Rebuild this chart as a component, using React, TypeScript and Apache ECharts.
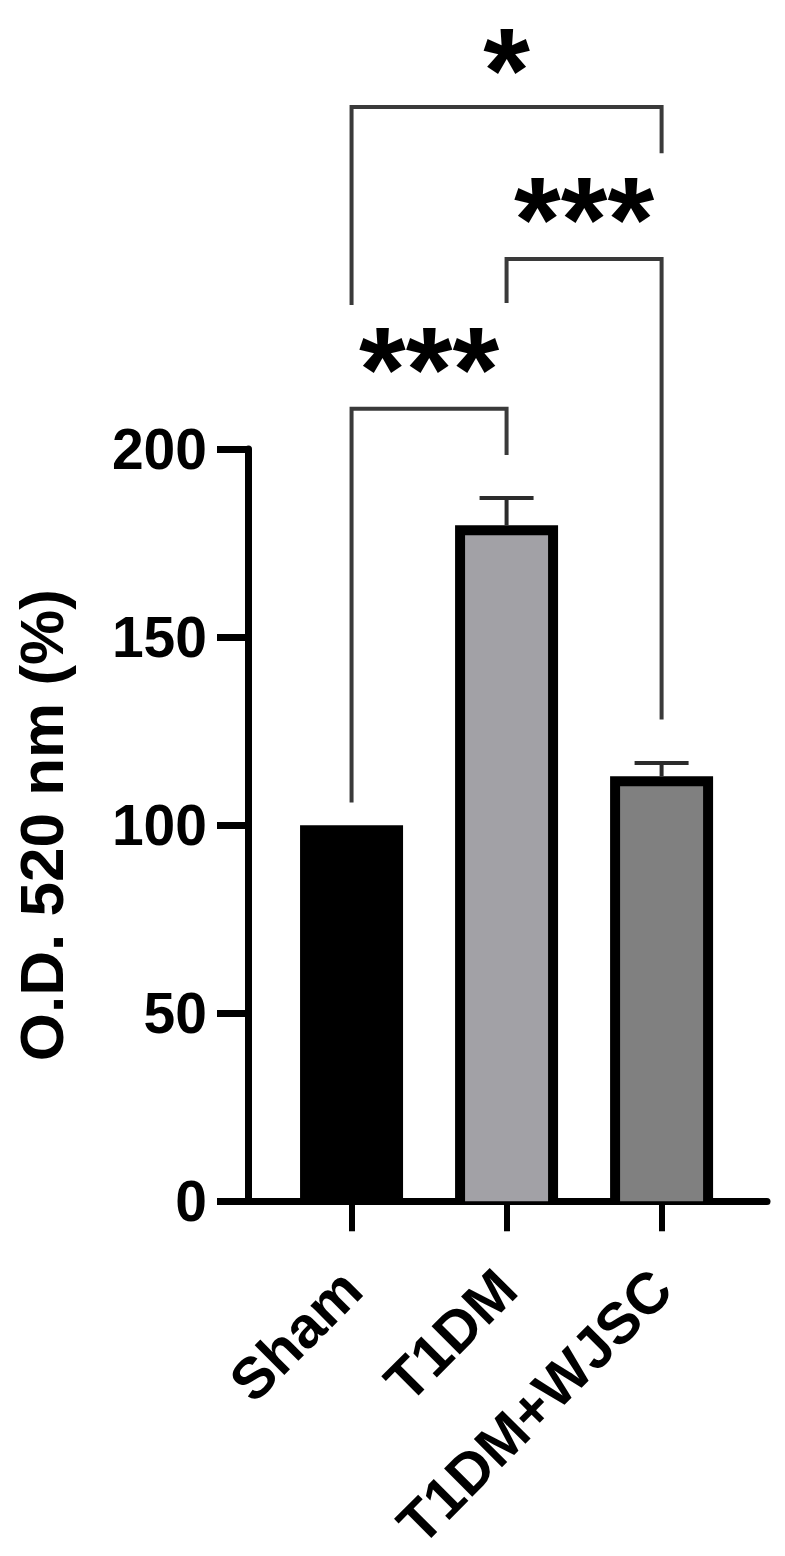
import React, { useEffect, useRef } from 'react';
import * as echarts from 'echarts';

// ---- data ----
const categories = ['Sham', 'T1DM', 'T1DM+WJSC'];
const categoryPositions = [1, 2, 3];
const means = [100, 179.7, 113];
const sem = [0, 7.3, 3.5];
const barFills = ['#000000', '#a2a1a6', '#808080'];
const yTickValues = [0, 50, 100, 150, 200];

// significance comparisons (bracket levels in axis units)
const cmpFrom = [0, 1, 0];
const cmpTo = [1, 2, 2];
const cmpLabels = ['***', '***', '*'];
const cmpLevel = [210.7, 250.5, 290.9];
const cmpLeftEnd = [106, 238.8, 238.3];
const cmpRightEnd = [198.4, 128.1, 278.6];

const FONT = '"Liberation Sans", Arial, Helvetica, sans-serif';
const STAR_SIZE = 120;

export default function App() {
  const ref = useRef<HTMLDivElement>(null);

  useEffect(() => {
    const chart = echarts.init(ref.current as HTMLDivElement, null, { renderer: 'svg' });

    const barData = categories.map((_, i) => [categoryPositions[i], means[i], i]);
    const errData = categories.map((_, i) => [categoryPositions[i], means[i], means[i] + sem[i], i]);
    const cmpData = cmpLabels.map((_, i) => [
      (categoryPositions[cmpFrom[i]] + categoryPositions[cmpTo[i]]) / 2,
      cmpLevel[i],
      categoryPositions[cmpFrom[i]],
      categoryPositions[cmpTo[i]],
      cmpLeftEnd[i],
      cmpRightEnd[i],
      i,
    ]);

    const option: any = {
      animation: false,
      grid: { left: 248, right: 18, top: 449, bottom: 339, containLabel: false },
      xAxis: {
        type: 'value',
        min: 0.332,
        max: 3.68,
        axisLine: { show: true, onZero: false, lineStyle: { color: '#000', width: 7 } },
        axisTick: {
          show: true,
          customValues: categoryPositions,
          length: 30,
          lineStyle: { color: '#000', width: 6 },
        },
        axisLabel: {
          customValues: categoryPositions,
          rotate: 45,
          margin: 78,
          formatter: (v: number) => categories[Math.round(v) - 1] ?? '',
          fontSize: 58,
          fontWeight: 'bold',
          color: '#000',
          fontFamily: FONT,
        },
        splitLine: { show: false },
      },
      yAxis: {
        type: 'value',
        min: yTickValues[0],
        max: yTickValues[yTickValues.length - 1],
        interval: 50,
        axisLine: { show: true, lineStyle: { color: '#000', width: 7 } },
        axisTick: { show: true, length: 31, lineStyle: { color: '#000', width: 7 } },
        axisLabel: {
          margin: 41,
          fontSize: 57,
          fontWeight: 'bold',
          color: '#000',
          fontFamily: FONT,
        },
        splitLine: { show: false },
        name: 'O.D. 520 nm (%)',
        nameLocation: 'middle',
        nameRotate: 90,
        nameGap: 176,
        nameTextStyle: { fontSize: 62, fontWeight: 'bold', color: '#000', fontFamily: FONT },
      },
      series: [
        {
          type: 'custom',
          name: 'bars',
          clip: false,
          data: barData,
          encode: { x: 0, y: 1 },
          renderItem: (params: any, api: any) => {
            const x = api.value(0);
            const v = api.value(1);
            const idx = api.value(2);
            const top = api.coord([x, v]);
            const base = api.coord([x, 0]);
            const w = 103;
            const b = 10;
            const left = top[0] - w / 2;
            const h = base[1] - top[1];
            return {
              type: 'group',
              children: [
                { type: 'rect', shape: { x: left, y: top[1], width: w, height: h }, style: { fill: '#000' } },
                {
                  type: 'rect',
                  shape: { x: left + b, y: top[1] + b, width: w - 2 * b, height: h - b },
                  style: { fill: barFills[idx] },
                },
              ],
            };
          },
        },
        {
          type: 'custom',
          name: 'error',
          clip: false,
          data: errData,
          encode: { x: 0, y: [1, 2] },
          renderItem: (params: any, api: any) => {
            const x = api.value(0);
            const lo = api.coord([x, api.value(1)]);
            const hi = api.coord([x, api.value(2)]);
            if (Math.abs(lo[1] - hi[1]) < 1) return { type: 'group', children: [] };
            const half = 27;
            const st = { stroke: '#2b2b2b', lineWidth: 4 };
            return {
              type: 'group',
              children: [
                { type: 'line', shape: { x1: lo[0], y1: lo[1], x2: hi[0], y2: hi[1] }, style: st },
                { type: 'line', shape: { x1: hi[0] - half, y1: hi[1], x2: hi[0] + half, y2: hi[1] }, style: st },
              ],
            };
          },
        },
        {
          type: 'custom',
          name: 'significance',
          clip: false,
          data: cmpData,
          encode: { x: [0, 2, 3], y: [1, 4, 5] },
          renderItem: (params: any, api: any) => {
            const mid = api.value(0);
            const level = api.value(1);
            const x1 = api.value(2);
            const x2 = api.value(3);
            const le = api.value(4);
            const re = api.value(5);
            const idx = api.value(6);
            const pL = api.coord([x1, level]);
            const pR = api.coord([x2, level]);
            const pLe = api.coord([x1, le]);
            const pRe = api.coord([x2, re]);
            const pM = api.coord([mid, level]);
            const st = { stroke: '#3a3a3a', lineWidth: 4, fill: 'none' };
            // keep the label's text box inside the canvas
            const ty = Math.max(pM[1] - 40, STAR_SIZE * 0.58);
            return {
              type: 'group',
              children: [
                {
                  type: 'polyline',
                  shape: { points: [[pLe[0], pLe[1]], [pL[0], pL[1]], [pR[0], pR[1]], [pRe[0], pRe[1]]] },
                  style: st,
                },
                {
                  type: 'text',
                  x: pM[0],
                  y: ty,
                  style: {
                    text: cmpLabels[idx],
                    font: `bold ${STAR_SIZE}px ${FONT}`,
                    lineHeight: 80,
                    fill: '#000',
                    align: 'center',
                    verticalAlign: 'middle',
                  },
                },
              ],
            };
          },
        },
      ],
    };

    chart.setOption(option);
    return () => chart.dispose();
  }, []);

  return (
    <div
      ref={ref}
      style={{ position: 'absolute', left: 0, top: 0, width: 785, height: 1556, background: '#fff' }}
    />
  );
}
